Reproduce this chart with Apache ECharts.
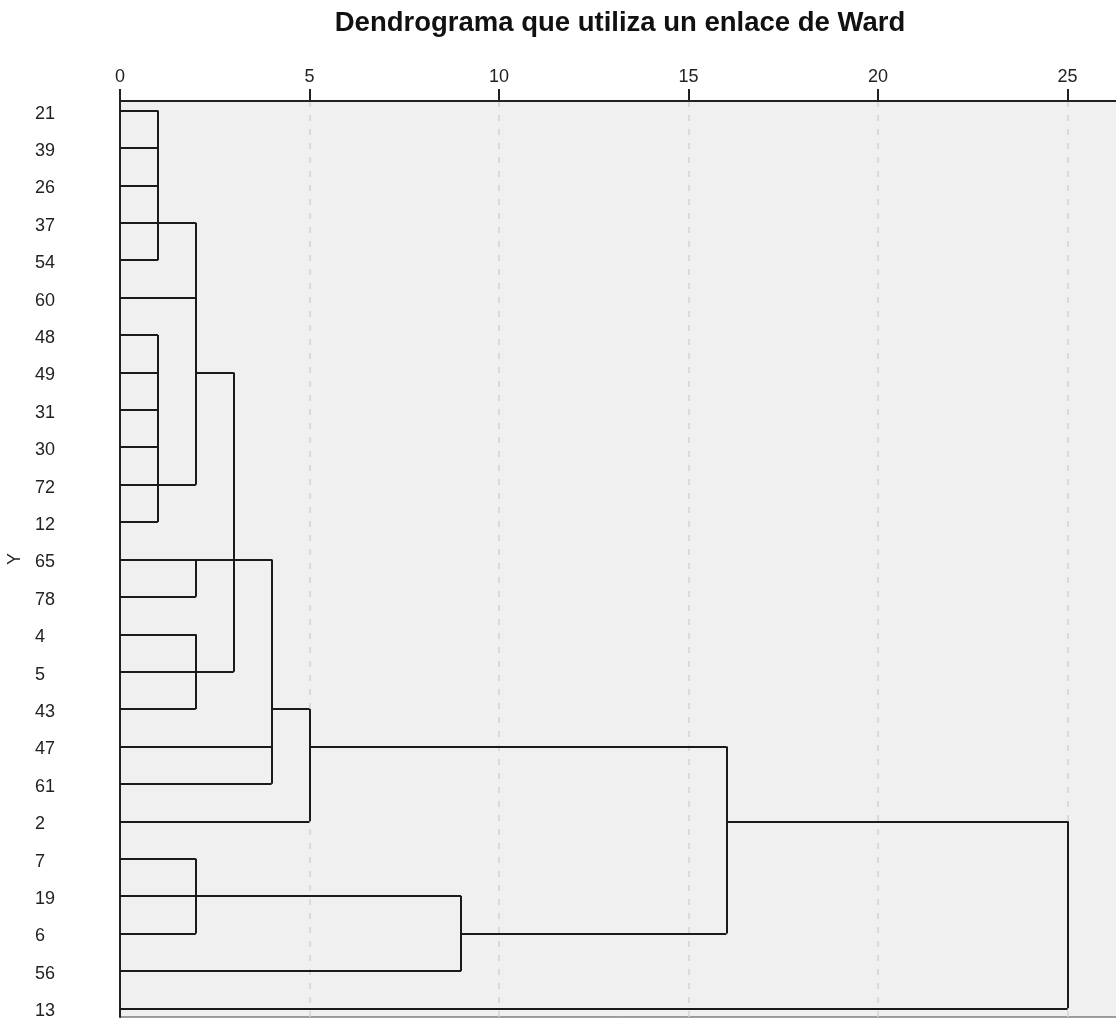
<!DOCTYPE html>
<html><head><meta charset="utf-8">
<script src="https://cdn.jsdelivr.net/npm/echarts@6/dist/echarts.min.js"></script>
<style>html,body{margin:0;padding:0;background:#fff}#c{width:1116px;height:1018px}</style>
</head><body><div id="c"></div>
<script>
// Leaves of the dendrogram, top to bottom
const leaves = ['21','39','26','37','54','60','48','49','31','30','72','12','65','78','4','5','43','47','61','2','7','19','6','56','13'];
// Rescaled distance at which each leaf's own horizontal line ends
const leafReach = [1,1,1,1,1,2,1,1,1,1,1,1,2,2,2,2,2,4,4,5,2,2,2,9,25];
// Merges: height, first and last leaf spanned by the vertical, leaf row of the link to the parent, parent height
const mergeHeight  = [1,   1,   2,   2,   2,   3,   4,   5,   2,  9,   16,  25];
const mergeFirst   = ['21','48','37','65','4', '49','65','43','7','19','47','2'];
const mergeLast    = ['54','12','72','78','43','5', '61','2', '6','56','6', '13'];
const mergeLinkRow = ['37','72','49','65','5', '65','43','47','19','6','2', null];
const mergeParent  = [2,   2,   3,   4,   3,   4,   5,   16,  9,  16,  25,  null];
const xTickValues = [0,5,10,15,20,25];
const titleText = 'Dendrograma que utiliza un enlace de Ward';
const yAxisName = 'Y';

const rowOf = l => leaves.indexOf(l);
const segs = [];
leaves.forEach((l, i) => segs.push([[0, i], [leafReach[i], i]]));
mergeHeight.forEach((h, k) => {
  segs.push([[h, rowOf(mergeFirst[k])], [h, rowOf(mergeLast[k])]]);
  if (mergeLinkRow[k] !== null) {
    const r = rowOf(mergeLinkRow[k]);
    segs.push([[h, r], [mergeParent[k], r]]);
  }
});

const FONT = '"Liberation Sans", Arial, sans-serif';
const chart = echarts.init(document.getElementById('c'), null, {renderer: 'canvas'});
chart.setOption({
  animation: false,
  backgroundColor: '#ffffff',
  title: {
    text: titleText, left: 615, top: 4, textAlign: 'center',
    textStyle: {fontSize: 27.5, fontWeight: 'bold', color: '#111', fontFamily: FONT}
  },
  grid: {left: 120, right: -2, top: 101, bottom: 1, outerBoundsMode: 'none', containLabel: false,
    show: true, backgroundColor: '#f0f0f0', borderColor: '#444', borderWidth: 1},
  xAxis: {
    type: 'value', position: 'top', min: 0, max: 26.33, interval: 5,
    axisLine: {show: true, onZero: false, lineStyle: {color: '#222', width: 2}},
    axisTick: {show: true, length: 12, lineStyle: {color: '#222', width: 2}},
    axisLabel: {fontSize: 18, color: '#222', margin: 15, fontFamily: FONT,
      formatter: v => xTickValues.indexOf(Math.round(v * 1000) / 1000) >= 0 ? String(v) : ''},
    splitLine: {show: true, lineStyle: {type: [6, 8], color: '#d2d2d2', width: 1.5}}
  },
  yAxis: {
    type: 'value', inverse: true, min: -0.257, max: 24.233,
    name: yAxisName, nameLocation: 'middle', nameGap: 84,
    nameTextStyle: {fontSize: 18, color: '#222', fontFamily: FONT},
    axisLine: {show: true, onZero: false, lineStyle: {color: '#222', width: 2}},
    axisTick: {show: false},
    splitLine: {show: false},
    axisLabel: {customValues: leaves.map((l, i) => i), formatter: v => leaves[Math.round(v)] || '',
      align: 'left', verticalAlign: 'top', lineHeight: 6, margin: 85, fontSize: 18, color: '#222', fontFamily: FONT}
  },
  series: [{
    type: 'lines', coordinateSystem: 'cartesian2d', silent: true, polyline: false,
    lineStyle: {color: '#1a1a1a', width: 2, opacity: 1},
    data: segs.map(c => ({coords: c}))
  }]
});
</script></body></html>
